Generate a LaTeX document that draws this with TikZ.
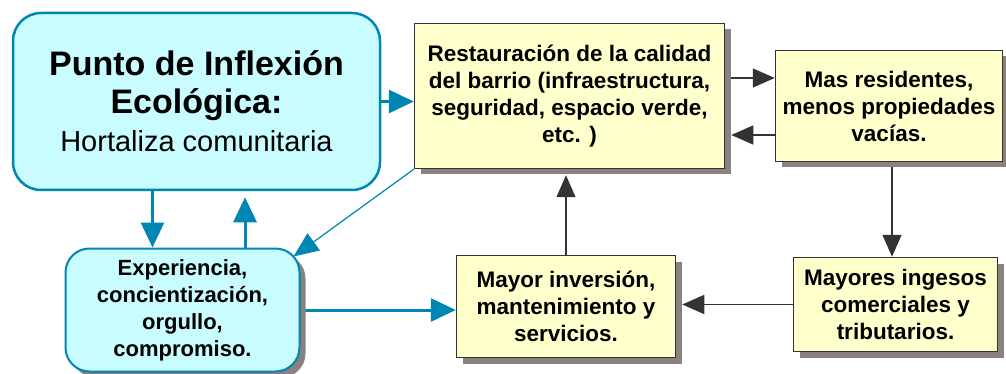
\documentclass[tikz,border=0pt]{standalone}
\usepackage{fontspec}
\setmainfont{Liberation Sans}
\usetikzlibrary{arrows.meta,shadows,backgrounds,positioning}
\pgfdeclarelayer{edgelayer}
\pgfdeclarelayer{nodelayer}
\pgfsetlayers{background,edgelayer,nodelayer,main}
\definecolor{hteal}{RGB}{0,134,178}
\definecolor{hcyan}{RGB}{200,252,255}
\definecolor{hyellow}{RGB}{255,255,204}
\definecolor{hdark}{RGB}{51,51,51}
\definecolor{hshadow}{RGB}{140,128,128}
\tikzstyle{none}=[inner sep=0mm]
\tikzstyle{hshade}=[drop shadow={shadow xshift=6pt,shadow yshift=-6pt,fill=hshadow,opacity=1}]
\tikzstyle{cn}=[draw=hteal,fill=hcyan,rounded corners=28pt,line width=2.5pt,align=center,inner sep=0pt]
\tikzstyle{yn}=[hshade,draw=hdark,fill=hyellow,line width=1.5pt,align=center,inner sep=0pt,font=\bfseries\fontsize{22.5}{27}\selectfont]
\tikzstyle{barrow}=[draw=hteal,line width=3pt,-{Triangle[length=25pt,width=23pt]}]
\tikzstyle{darrow}=[draw=hdark,line width=1.5pt,-{Triangle[length=22pt,width=19pt]}]
\tikzstyle{tarrow}=[draw=hteal,line width=1.2pt,-{Triangle[length=25pt,width=21pt]}]

\begin{document}
\begin{tikzpicture}[x=1pt,y=-1pt]
	\useasboundingbox (0,0) rectangle (1006,374);
	\begin{pgfonlayer}{nodelayer}
		\node [style=cn, minimum width=367pt, minimum height=177pt, font=\fontsize{34}{38}\selectfont] (0) at (196.5,101.5) {\textbf{Punto de Inflexión}\\\textbf{Ecológica:}\\{\fontsize{29}{38}\selectfont Hortaliza comunitaria}};
		\node [style=yn, minimum width=310pt, minimum height=145pt] (1) at (569.5,96) {Restauración de la calidad\\del barrio (infraestructura,\\seguridad, espacio verde,\\etc. )};
		\node [style=yn, minimum width=227pt, minimum height=111pt] (2) at (889,106) {Mas residentes,\\menos propiedades\\vacías.};
		\node [style=cn, hshade, rounded corners=24pt, line width=2pt, minimum width=234pt, minimum height=123pt, font=\bfseries\fontsize{22}{27}\selectfont] (3) at (182.5,310) {Experiencia,\\concientización,\\orgullo,\\compromiso.};
		\node [style=yn, minimum width=219pt, minimum height=102pt] (4) at (566,306.5) {Mayor inversión,\\mantenimiento y\\servicios.};
		\node [style=yn, minimum width=204pt, minimum height=94pt] (5) at (895.5,304.5) {Mayores ingesos\\comerciales y\\tributarios.};
	\end{pgfonlayer}
	\begin{pgfonlayer}{edgelayer}
		\draw [style=barrow] (0.east) to (0.east -| 1.west);
		\draw [style=darrow] ([xshift=6pt,yshift=28pt]2.west -| 1.east) to ([yshift=28pt]2.west);
		\draw [style=darrow] ([yshift=-29pt]2.west) to ([xshift=6pt,yshift=-29pt]2.west -| 1.east);
		\draw [style=darrow] ([xshift=3pt]2.south) to ([xshift=3pt]2.south |- 5.north);
		\draw [style=darrow] (5.west) to ([xshift=6pt]5.west -| 4.east);
		\draw [style=darrow] (4.north) to ([yshift=-6pt]4.north |- 1.south);
		\draw [style=barrow] (3.east) to (3.east -| 4.west);
		\draw [style=barrow] ([xshift=-30pt]3.north |- 0.south) to ([xshift=-30pt]3.north);
		\draw [style=barrow] ([xshift=62.5pt]3.north) to ([xshift=62.5pt,yshift=-6pt]3.north |- 0.south);
		\draw [style=tarrow] (1.south west) to ([xshift=-7pt,yshift=-9pt]3.north east);
	\end{pgfonlayer}
\end{tikzpicture}
\end{document}
